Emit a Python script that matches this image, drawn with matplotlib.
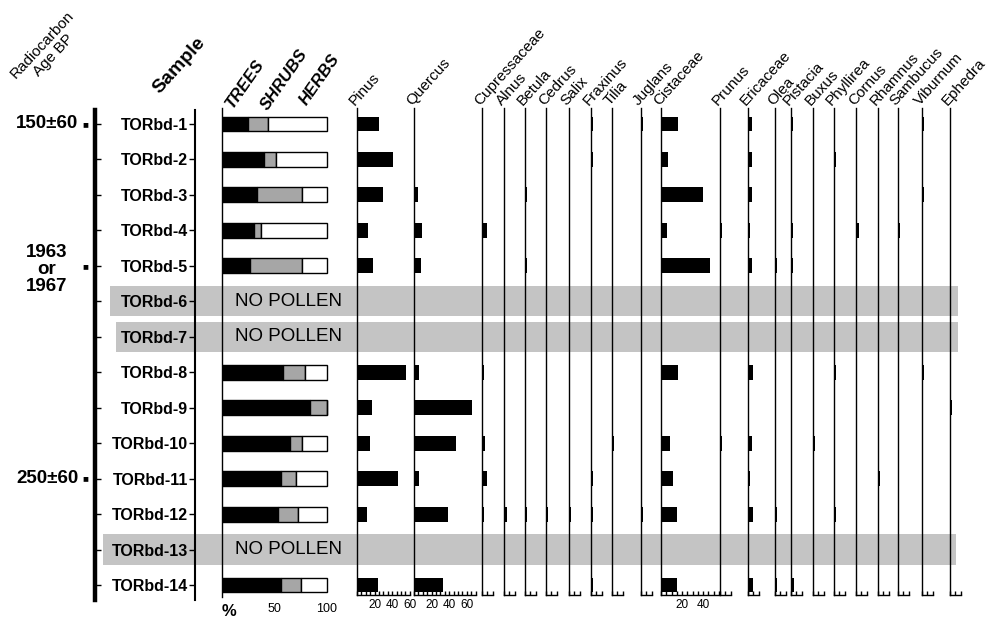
import numpy as np
import matplotlib.pyplot as plt
from matplotlib.ticker import FixedLocator

plt.rcParams['font.family'] = ['Liberation Sans', 'DejaVu Sans']

# ---- data -------------------------------------------------------------
samples = ['TORbd-1', 'TORbd-2', 'TORbd-3', 'TORbd-4', 'TORbd-5', 'TORbd-6', 'TORbd-7',
           'TORbd-8', 'TORbd-9', 'TORbd-10', 'TORbd-11', 'TORbd-12', 'TORbd-13', 'TORbd-14']
sample_rows = np.arange(1, 15)
no_pollen_rows = [6, 7, 13]
counted_rows = [1, 2, 3, 4, 5, 8, 9, 10, 11, 12, 14]

ages = ['150±60', '1963\nor\n1967', '250±60']
age_rows = [1, 5, 11]

# % of pollen sum, one value per counted sample
trees = [25, 40, 33, 30, 27, 58, 84, 65, 56, 53, 56]
shrubs = [19, 11, 43, 7, 49, 21, 16, 11, 14, 19, 19]
herbs = [56, 49, 24, 63, 24, 21, 0, 24, 30, 28, 25]

pinus = [25, 41, 30, 12, 18, 56, 17, 15, 47, 11, 24]
quercus = [1, 0, 5, 9, 8, 6, 66, 48, 6, 39, 33]
cupressaceae = [0, 0, 0, 5, 1, 2, 1, 3, 5, 1.5, 0]
alnus = [0, 0, 0, 0, 0, 0, 0, 0, 0, 3, 0]
betula = [0, 0, 1.5, 0, 1.5, 0, 0, 0, 0, 1.5, 0]
cedrus = [0, 0, 0, 0, 0, 0, 0, 0, 0, 1.5, 0]
salix = [0, 0, 0, 0, 0, 0, 0, 0, 0, 1.5, 0]
fraxinus = [2, 2, 0, 0, 0, 0, 0, 0, 1.5, 2, 2]
tilia = [0, 0, 0, 0, 0, 0, 0, 1.5, 0, 0, 0]
juglans = [2, 0, 0, 0, 0, 0, 0, 0, 0, 2, 0]
cistaceae = [16, 7, 40, 6, 47, 16, 0, 9, 11, 15, 15]
prunus = [0, 0, 0, 1.5, 0, 0, 0, 1.5, 0, 0, 0]
ericaceae = [4, 4, 4, 1.5, 4, 5, 0, 4, 2, 5, 5]
olea = [0, 0, 0, 0, 2, 0, 0, 0, 0, 2, 2]
pistacia = [2, 0, 0, 2, 2, 0, 0, 0, 0, 0, 2.5]
buxus = [0, 0, 0, 0, 0, 0, 0, 2, 0, 0, 0]
phyllirea = [0, 2, 0, 0, 0, 2, 0, 0, 0, 2, 0]
cornus = [0, 0, 0, 3, 0, 0, 0, 0, 0, 0, 0]
rhamnus = [0, 0, 0, 0, 0, 0, 0, 0, 2, 0, 0]
sambucus = [0, 0, 0, 2, 0, 0, 0, 0, 0, 0, 0]
viburnum = [2, 0, 2, 0, 0, 2, 0, 0, 0, 0, 0]
ephedra = [0, 0, 0, 0, 0, 0, 2, 0, 0, 0, 0]

taxa = ['Pinus', 'Quercus', 'Cupressaceae', 'Alnus', 'Betula', 'Cedrus', 'Salix',
        'Fraxinus', 'Tilia', 'Juglans', 'Cistaceae', 'Prunus', 'Ericaceae', 'Olea',
        'Pistacia', 'Buxus', 'Phyllirea', 'Cornus', 'Rhamnus', 'Sambucus', 'Viburnum',
        'Ephedra']
taxa_values = [pinus, quercus, cupressaceae, alnus, betula, cedrus, salix, fraxinus,
               tilia, juglans, cistaceae, prunus, ericaceae, olea, pistacia, buxus,
               phyllirea, cornus, rhamnus, sambucus, viburnum, ephedra]

# ---- layout (pixels) --------------------------------------------------
W, H = 988, 619
ROW1, STEP = 124, 35.46
lefts = [357, 414, 482, 504, 525, 546, 569, 591, 612, 641, 661, 720, 748, 775,
         791, 813, 834, 856, 878, 898, 922, 950]
scales = [0.88, 0.88] + [1.05] * 20          # px per %
axis_max = [60, 70] + [10] * 8 + [55] + [10] * 11
tick_labels = {0: [20, 40, 60], 1: [20, 40, 60], 10: [20, 40]}


def row_of(py):
    return 1 + (py - ROW1) / STEP


fig = plt.figure(figsize=(W / 100, H / 100), dpi=100)


def add_ax(x0, x1, y0, y1):
    ax = fig.add_axes([x0 / W, 1 - y1 / H, (x1 - x0) / W, (y1 - y0) / H])
    ax.set_ylim(row_of(y1), row_of(y0))
    ax.patch.set_visible(False)
    return ax


# background: grey "no pollen" bands
bg = add_ax(0, W, 0, H)
bg.set_xlim(0, W)
bg.axis('off')
band_left = [110, 116, 103]
band_right = [958, 958, 956]
bg.barh(no_pollen_rows, np.subtract(band_right, band_left), left=band_left,
        height=0.85, color='#c4c4c4', zorder=0)
for r in no_pollen_rows:
    bg.text(288, r, 'NO POLLEN', ha='center', va='center', fontsize=13.5)

# age axis
ax_age = add_ax(95, 105, 110, 600)
for s in ['top', 'right', 'bottom']:
    ax_age.spines[s].set_visible(False)
ax_age.spines['left'].set_linewidth(3.2)
ax_age.set_xticks([])
ax_age.set_yticks(sample_rows)
ax_age.tick_params(axis='y', direction='in', length=4, width=1, labelleft=False)
for r, s in zip(age_rows, ages):
    ax_age.annotate('■', xy=(0, r), xycoords=('axes fraction', 'data'),
                    xytext=(-7, 0), textcoords='offset points',
                    ha='center', va='center', fontsize=7)
    if '\n' in s:
        ax_age.annotate(s, xy=(0, r + 0.1), xycoords=('axes fraction', 'data'),
                        xytext=(-35, 0), textcoords='offset points', ha='center',
                        va='center', multialignment='center', fontsize=13.5,
                        fontweight='bold', linespacing=1.0)
    else:
        ax_age.annotate(s, xy=(0, r), xycoords=('axes fraction', 'data'),
                        xytext=(-12, 0), textcoords='offset points', ha='right',
                        va='center', fontsize=13.5, fontweight='bold')

# sample axis
ax_s = add_ax(195, 205, 110, 600)
for s in ['top', 'right', 'bottom']:
    ax_s.spines[s].set_visible(False)
ax_s.spines['left'].set_linewidth(1.5)
ax_s.set_xticks([])
ax_s.set_yticks(sample_rows)
ax_s.set_yticklabels(samples, fontsize=11.5, fontweight='bold')
ax_s.tick_params(axis='y', direction='out', length=4, width=1, pad=1)

# trees / shrubs / herbs
ax_t = add_ax(222, 350, 108, 597)
ax_t.set_xlim(0, 128 / 1.05)
bh = 0.42
ax_t.barh(counted_rows, trees, height=bh, color='black', edgecolor='black', lw=1)
ax_t.barh(counted_rows, shrubs, left=trees, height=bh, color='#a6a6a6',
          edgecolor='black', lw=1)
ax_t.barh(counted_rows, herbs, left=np.add(trees, shrubs), height=bh, color='white',
          edgecolor='black', lw=1)
for s in ['top', 'right', 'bottom']:
    ax_t.spines[s].set_visible(False)
ax_t.spines['left'].set_linewidth(1)
ax_t.set_yticks([])
ax_t.set_xticks([50, 100])
ax_t.tick_params(axis='x', length=0, labelsize=9, pad=4)
ax_t.annotate('%', xy=(0, 0), xycoords='axes fraction', xytext=(0, -10.5),
              textcoords='offset points', ha='left', va='center', fontsize=12,
              fontweight='bold')

# individual taxa
for i, (name, vals) in enumerate(zip(taxa, taxa_values)):
    x0 = lefts[i]
    x1 = lefts[i + 1] - 1 if i + 1 < len(lefts) else 975
    ax = add_ax(x0, x1, 108, 595)
    ax.set_xlim(0, (x1 - x0) / scales[i])
    ax.barh(counted_rows, vals, height=bh, color='black', lw=0)
    ax.spines['top'].set_visible(False)
    ax.spines['right'].set_visible(False)
    ax.spines['left'].set_linewidth(1)
    ax.spines['bottom'].set_linewidth(1)
    ax.spines['bottom'].set_bounds(0, axis_max[i])
    ax.set_yticks([])
    ax.xaxis.set_minor_locator(FixedLocator(np.arange(0, axis_max[i] + 1, 5)))
    labs = tick_labels.get(i, [])
    ax.set_xticks(labs if labs else [axis_max[i]])
    ax.set_xticklabels([str(v) for v in labs] if labs else [''])
    ax.tick_params(axis='x', which='both', direction='in', length=3, width=1,
                   labelsize=8.5, pad=3)
    ax.text(0, 1, name, transform=ax.transAxes, rotation=48,
            rotation_mode='anchor', ha='left', va='bottom', fontsize=11)

# column headers
fig.text(48 / W, 1 - 50 / H, 'Radiocarbon\nAge BP', rotation=47, ha='center',
         va='center', multialignment='center', fontsize=11, rotation_mode='anchor')
fig.text(179 / W, 1 - 66 / H, 'Sample', rotation=48, ha='center', va='center',
         fontsize=14, fontweight='bold', rotation_mode='anchor')
for label, x, y in [('TREES', 245, 84), ('SHRUBS', 284, 80), ('HERBS', 320, 80)]:
    fig.text(x / W, 1 - y / H, label, rotation=55, ha='center', va='center',
             fontsize=12, fontweight='bold', fontstyle='italic',
             rotation_mode='anchor')

fig.savefig('out.png', dpi=100)
